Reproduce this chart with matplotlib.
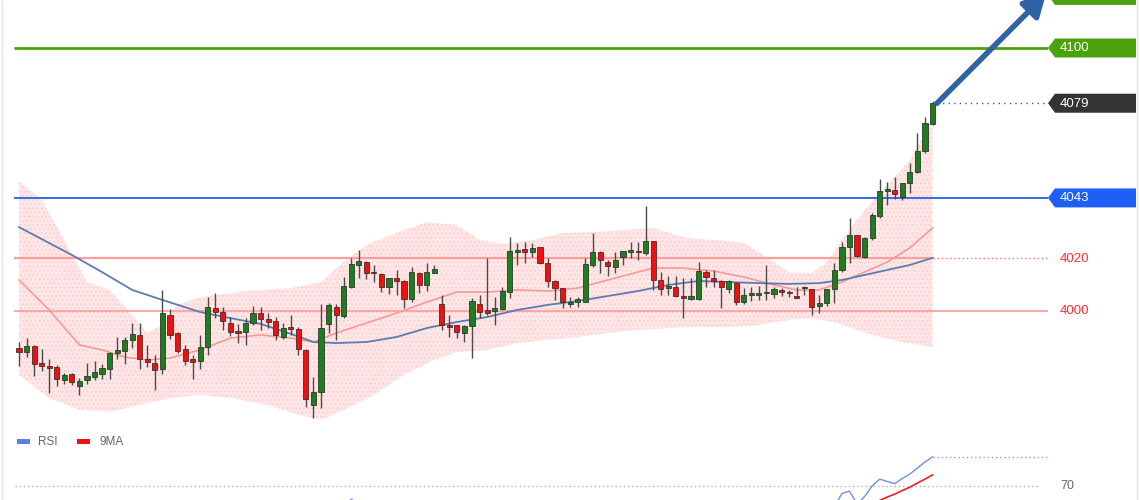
import matplotlib
matplotlib.use('Agg')
import matplotlib.pyplot as plt
import numpy as np
from matplotlib.patches import Polygon, Rectangle

plt.rcParams['font.family'] = ['Liberation Sans', 'DejaVu Sans']
plt.rcParams['hatch.linewidth'] = 0.6

# ---------------- data ----------------
opens = [3986.0, 3984.5, 3986.7, 3980.1, 3979.1, 3978.6, 3973.8, 3975.9, 3971.6, 3973.8,
         3975.0, 3975.9, 3977.8, 3983.9, 3984.9, 3989.0, 3990.8, 3981.6, 3980.3, 3977.8,
         3998.5, 3991.5, 3985.4, 3981.6, 3981.1, 3986.4, 4001.3, 3999.5, 3995.6, 3992.5,
         3991.9, 3995.3, 3999.1, 3996.8, 3996.3, 3990.2, 3994.0, 3993.0, 3985.2, 3964.3,
         3969.3, 3995.1, 4001.4, 3998.1, 4009.0, 4017.5, 4018.8, 4015.0, 4014.1, 4009.0,
         4012.4, 4011.5, 4004.4, 4014.6, 4009.9, 4014.6, 4002.7, 3994.7, 3994.7, 3991.5,
         3994.3, 4002.7, 4000.4, 4000.1, 4000.6, 4007.3, 4022.5, 4023.4, 4022.3, 4024.3,
         4018.4, 4011.5, 4008.6, 4002.7, 4003.4, 4003.5, 4017.5, 4022.6, 4018.8, 4016.9,
         4020.4, 4022.6, 4022.9, 4021.9, 4026.7, 4011.8, 4008.6, 4009.0, 4005.7, 4004.4,
         4004.4, 4015.0, 4012.4, 4011.5, 4008.2, 4010.8, 4003.5, 4006.1, 4006.1, 4006.7,
         4006.5, 4008.0, 4007.3, 4005.4, 4008.6, 4008.3, 4001.9, 4002.9, 4008.3, 4015.6,
         4024.2, 4028.9, 4020.7, 4027.6, 4036.1, 4045.7, 4046.0, 4043.2, 4048.5, 4053.0,
         4061.0, 4071.1]
highs = [3988.2, 3989.8, 3987.0, 3985.6, 3981.7, 3979.5, 3976.3, 3976.3, 3974.5, 3980.2,
         3981.0, 3979.7, 3984.5, 3990.1, 3990.2, 3995.6, 3995.6, 3987.0, 3983.3, 4008.0,
         4000.6, 3992.0, 3987.1, 3983.3, 3990.9, 4005.4, 4006.7, 4001.6, 3997.8, 3995.1,
         3997.3, 4001.9, 4001.6, 3999.1, 3997.8, 3995.6, 3998.5, 3994.0, 3985.5, 3975.0,
         4002.7, 4002.9, 4002.7, 4013.0, 4020.0, 4023.2, 4019.0, 4017.5, 4014.3, 4012.6,
         4015.6, 4011.8, 4016.7, 4014.8, 4018.4, 4017.6, 4006.1, 3998.5, 3994.8, 3994.5,
         4004.8, 4006.1, 4020.0, 4005.4, 4009.2, 4028.3, 4026.0, 4026.3, 4026.0, 4024.5,
         4020.0, 4011.8, 4008.8, 4005.4, 4005.4, 4020.0, 4029.5, 4022.8, 4019.4, 4022.5,
         4023.0, 4026.3, 4026.3, 4039.9, 4026.8, 4014.9, 4013.3, 4013.3, 4012.4, 4012.4,
         4018.7, 4015.6, 4015.6, 4011.8, 4011.6, 4010.9, 4008.6, 4009.0, 4009.5, 4017.5,
         4009.2, 4008.6, 4007.8, 4009.2, 4009.6, 4008.4, 4006.1, 4008.4, 4018.1, 4026.3,
         4035.5, 4029.0, 4028.3, 4037.3, 4050.1, 4049.1, 4051.1, 4048.6, 4056.2, 4067.6,
         4073.9, 4080.0]
lows = [3979.1, 3982.4, 3975.4, 3977.3, 3968.8, 3971.5, 3972.2, 3972.0, 3968.0, 3972.2,
        3973.8, 3974.0, 3974.0, 3981.7, 3979.7, 3985.8, 3977.8, 3978.6, 3970.0, 3976.0,
        3989.2, 3984.0, 3979.5, 3974.0, 3977.8, 3983.3, 3997.2, 3992.8, 3990.5, 3987.8,
        3987.1, 3994.7, 3992.8, 3993.5, 3989.0, 3989.2, 3990.9, 3983.3, 3963.6, 3959.2,
        3963.1, 3991.5, 3989.0, 3997.2, 4008.6, 4012.4, 4012.0, 4011.1, 4007.3, 4006.5,
        4006.1, 4001.0, 4003.3, 4007.0, 4007.7, 4014.3, 3992.8, 3990.2, 3989.6, 3988.3,
        3982.0, 3997.2, 3998.5, 3994.7, 4000.4, 4004.8, 4017.5, 4018.3, 4020.7, 4017.7,
        4009.0, 4004.2, 4001.0, 4001.6, 4001.4, 4003.3, 4016.8, 4014.6, 4013.4, 4014.3,
        4017.5, 4020.0, 4019.4, 4021.3, 4008.0, 4006.1, 4006.1, 4005.4, 3997.2, 4004.3,
        4004.3, 4009.2, 4009.2, 4001.0, 4007.0, 4002.3, 4002.7, 4003.9, 4004.0, 4004.2,
        4004.8, 4005.8, 4005.3, 4004.8, 4006.2, 3998.5, 3999.1, 4002.0, 4002.9, 4015.0,
        4018.1, 4020.5, 4020.2, 4027.0, 4035.2, 4040.3, 4042.5, 4042.3, 4044.7, 4052.4,
        4060.0, 4070.7]
closes = [3984.5, 3986.7, 3979.8, 3979.1, 3978.3, 3974.3, 3975.7, 3972.9, 3973.5, 3975.2,
          3976.7, 3978.2, 3984.1, 3985.3, 3989.0, 3991.1, 3981.6, 3980.7, 3977.6, 3999.4,
          3990.9, 3984.9, 3981.1, 3980.7, 3986.4, 4001.4, 3999.5, 3996.3, 3992.1, 3991.5,
          3995.3, 3999.1, 3996.8, 3995.9, 3990.9, 3993.7, 3993.0, 3985.4, 3966.4, 3969.3,
          3993.4, 4002.3, 3998.5, 4009.5, 4017.9, 4019.1, 4014.6, 4014.3, 4009.2, 4012.4,
          4011.5, 4004.4, 4015.0, 4009.9, 4015.0, 4015.8, 3994.7, 3994.0, 3992.1, 3994.3,
          4003.8, 3999.7, 3999.1, 4001.0, 4007.7, 4022.9, 4023.2, 4022.6, 4024.1, 4018.4,
          4011.5, 4008.6, 4003.5, 4003.5, 4004.4, 4017.9, 4022.6, 4019.4, 4017.1, 4019.4,
          4022.8, 4023.2, 4022.3, 4026.7, 4011.8, 4008.3, 4009.5, 4005.8, 4004.8, 4005.7,
          4015.2, 4012.8, 4011.5, 4009.0, 4011.5, 4003.5, 4006.1, 4006.5, 4006.7, 4007.3,
          4008.3, 4007.1, 4006.7, 4005.1, 4009.2, 4001.6, 4003.2, 4008.3, 4015.6, 4024.4,
          4028.9, 4020.9, 4027.6, 4036.5, 4045.7, 4046.3, 4044.4, 4048.5, 4053.0, 4060.9,
          4071.4, 4079.0]

# Bollinger band (upper / lower) sampled at candle indices
bb_up_idx = [0, 3, 6, 9, 12, 15, 17, 19, 21, 24, 28, 32, 36, 40, 43, 46, 50, 54, 58, 61,
             64, 68, 72, 76, 80, 84, 88, 92, 96, 100, 102, 105, 107, 109, 112, 115, 118, 121]
bb_upper = [4049.4, 4042.2, 4027.0, 4011.0, 4008.0, 3998.5, 3991.6, 3994.7, 4002.3, 4005.3,
            4006.8, 4008.0, 4008.7, 4011.0, 4018.6, 4025.1, 4029.7, 4033.8, 4032.7, 4027.0,
            4025.5, 4027.0, 4029.7, 4030.0, 4030.8, 4031.6, 4028.1, 4027.0, 4025.9, 4018.6,
            4014.8, 4014.4, 4018.6, 4027.0, 4038.4, 4047.9, 4057.4, 4073.4]
bb_lo_idx = [0, 4, 8, 12, 16, 20, 24, 28, 33, 37, 40, 43, 47, 51, 55, 58, 62, 66, 70, 74,
             78, 82, 86, 90, 94, 98, 102, 105, 108, 111, 114, 117, 121]
bb_lower = [3975.7, 3966.9, 3962.4, 3961.6, 3964.3, 3966.9, 3968.1, 3966.9, 3964.3, 3960.5,
            3958.6, 3962.4, 3968.1, 3975.7, 3981.4, 3984.4, 3985.2, 3987.8, 3989.0, 3990.1,
            3991.6, 3992.8, 3993.5, 3993.9, 3993.9, 3994.7, 3996.6, 3997.3, 3995.8, 3992.8,
            3990.1, 3988.2, 3986.3]

# 20-period moving average (red) and long moving average (blue)
ma20_idx = [0, 4, 8, 11, 14, 17, 20, 24, 28, 32, 36, 39, 42, 46, 50, 54, 58, 62, 66, 70,
            74, 78, 82, 84, 88, 92, 96, 100, 103, 106, 109, 112, 115, 118, 121]
ma20 = [4011.8, 4000.4, 3987.1, 3985.2, 3982.5, 3981.4, 3982.1, 3985.2, 3989.7, 3990.9,
        3989.7, 3988.2, 3991.6, 3995.4, 3999.2, 4003.4, 4007.2, 4007.2, 4008.0, 4007.6,
        4008.7, 4011.8, 4014.8, 4016.3, 4016.3, 4015.2, 4012.9, 4009.9, 4008.0, 4008.0,
        4011.0, 4014.8, 4018.6, 4024.0, 4031.6]
malong_idx = [0, 7, 11, 15, 19, 24, 28, 32, 36, 39, 42, 46, 50, 54, 58, 62, 66, 70, 74, 78,
              82, 86, 90, 94, 98, 102, 106, 109, 112, 115, 118, 121]
malong = [4031.9, 4021.3, 4014.8, 4008.0, 4004.2, 3999.6, 3997.3, 3995.1, 3991.3, 3988.2,
          3987.8, 3988.2, 3990.1, 3993.5, 3995.8, 3997.7, 4000.4, 4002.3, 4003.8, 4005.7,
          4007.6, 4009.9, 4011.4, 4011.0, 4010.6, 4010.3, 4010.6, 4011.8, 4013.7, 4015.6,
          4017.5, 4020.2]

# key levels
resistance_levels = [4100]
support_levels = [4020, 4000]
pivot_level = 4043
last_price = 4079
target_level = 4120

# RSI panel
rsi_idx_a = [43, 44, 45]
rsi_a = [63.0, 65.6, 64.0]
rsi_idx = [107, 108, 109, 110, 111, 112, 113, 114, 115, 116, 117, 118, 119, 120, 121]
rsi = [60.0, 63.0, 67.5, 68.3, 64.0, 66.5, 70.0, 72.3, 71.5, 70.8, 72.5, 74.0, 76.0, 78.0, 79.7]
ma9_idx = [113, 114, 115, 116, 117, 118, 119, 120, 121]
ma9 = [63.5, 65.2, 66.3, 67.3, 68.5, 69.6, 71.0, 72.3, 73.7]
rsi_level = 70

# ---------------- layout ----------------
W, H = 1140, 500
PX = 7.55      # pixels per candle
X0 = 19        # pixel of first candle


def fx(px):
    return (px - X0) / PX


fig = plt.figure(figsize=(W / 100, H / 100), dpi=100)
fig.patch.set_facecolor('white')

ax = fig.add_axes([14 / W, 70 / H, 1034 / W, 430 / H])
ax.set_xlim(fx(14), fx(1048))
ax.set_ylim(3954.75, 4118.25)
ax.axis('off')

# Bollinger band fill
bx = np.r_[bb_up_idx, bb_lo_idx[::-1]]
by = np.r_[bb_upper, bb_lower[::-1]]
ax.fill(bx, by, facecolor='#ffe6e6', edgecolor='#f9caca', hatch='....', lw=0, zorder=1)

# level lines
for v in resistance_levels:
    ax.hlines(v, fx(14), fx(1048), color='#4ca20c', lw=2, zorder=2)
ax.hlines(pivot_level, fx(14), fx(1048), color='#2f6cf2', lw=1.4, zorder=2)
n = len(closes)
ax.hlines(support_levels[0], fx(14), n - 1, color='#ff9c9c', lw=1.6, zorder=2)
ax.hlines(support_levels[0], n - 1, fx(1048), color='#ff7070', lw=1,
          linestyles=(0, (1, 2)), zorder=2)
ax.hlines(support_levels[1], fx(14), fx(1048), color='#ffa0a0', lw=1.3, zorder=2)
ax.hlines(last_price, fx(937), fx(1048), color='#555555', lw=1,
          linestyles=(0, (1, 3)), zorder=2)

# moving averages
ax.plot(ma20_idx, ma20, color='#f59a9a', lw=1.2, zorder=2.5)
ax.plot(malong_idx, malong, color='#5a7cb3', lw=1.3, zorder=2.5)

# candles
o = np.array(opens); c = np.array(closes)
hi = np.array(highs); lo = np.array(lows)
idx = np.arange(n)
up = c >= o
ax.vlines(idx, lo, hi, color='#4a4a4a', lw=1, zorder=3)
bot = np.minimum(o, c)
hgt = np.maximum(np.abs(c - o), 0.7)
ax.bar(idx[up], hgt[up], bottom=bot[up], width=0.68, color='#1f7d1f',
       edgecolor='#2a3a2a', lw=0.6, zorder=4)
ax.bar(idx[~up], hgt[~up], bottom=bot[~up], width=0.68, color='#f01010',
       edgecolor='#4a2a2a', lw=0.6, zorder=4)

# arrow to target
ax.annotate('', xy=(fx(1046), target_level + 0.5), xytext=(fx(937), last_price),
            arrowprops=dict(arrowstyle='-|>,head_length=0.8,head_width=0.45', lw=4,
                            color='#2f63a6', shrinkA=0, shrinkB=0, mutation_scale=16),
            annotation_clip=False, zorder=6)

# RSI panel
rax = fig.add_axes([14 / W, 0, 1034 / W, 70 / H])
rax.set_xlim(fx(14), fx(1048))
rax.set_ylim(65.33, 88.67)
rax.axis('off')
rax.hlines(rsi_level, fx(15), fx(1040), color='#b0b0b0', lw=1, linestyles=(0, (1, 2)))
rax.plot(rsi_idx_a, rsi_a, color='#7090e6', lw=1)
rax.plot(rsi_idx, rsi, color='#7090e6', lw=1)
rax.plot(ma9_idx, ma9, color='#ee2020', lw=1.2)
rax.hlines(rsi[-1], rsi_idx[-1], fx(1048), color='#8a9ad0', lw=1, linestyles=(0, (1, 2)))

# overlay in pixel coordinates for tags / labels
ov = fig.add_axes([0, 0, 1, 1])
ov.set_xlim(0, W)
ov.set_ylim(H, 0)
ov.axis('off')
ov.patch.set_alpha(0)
fig.canvas.draw()


def ypix(axis, v):
    return H - axis.transData.transform((0, v))[1]


def tag(v, color, text=None):
    y = ypix(ax, v)
    pts = [(1048, y), (1055, y - 9.5), (1136, y - 9.5), (1136, y + 9.5), (1055, y + 9.5)]
    ov.add_patch(Polygon(pts, closed=True, fc=color, ec='none'))
    if text:
        ov.text(1060, y + 0.5, text, color='white', va='center', ha='left', fontsize=9.5)


tag(target_level, '#4ca20c')   # target tag, its label sits above the visible area
tag(resistance_levels[0], '#4ca20c', str(resistance_levels[0]))
tag(last_price, '#333333', str(last_price))
tag(pivot_level, '#1f5ff5', str(pivot_level))
for v in support_levels:
    ov.text(1060, ypix(ax, v) + 0.5, str(v), color='#ff3030', va='center', ha='left',
            fontsize=9.5)

ov.text(1060, ypix(rax, rsi_level) + 0.5, str(rsi_level), color='#666666', va='center',
        ha='left', fontsize=9)

# RSI legend
ov.add_patch(Rectangle((17, 439), 13, 5, fc='#5b82e0', ec='none'))
ov.text(38, 442, 'RSI', color='#666666', va='center', ha='left', fontsize=8.5)
ov.add_patch(Rectangle((77, 439), 13, 5, fc='#ee1111', ec='none'))
ov.text(99, 442, '9MA', color='#666666', va='center', ha='left', fontsize=8.5)

# faint frame lines
ov.vlines([1.5, 1136.5], 0, H, color='#e4e4e4', lw=1)

fig.savefig('out.png', dpi=100, facecolor='white')
